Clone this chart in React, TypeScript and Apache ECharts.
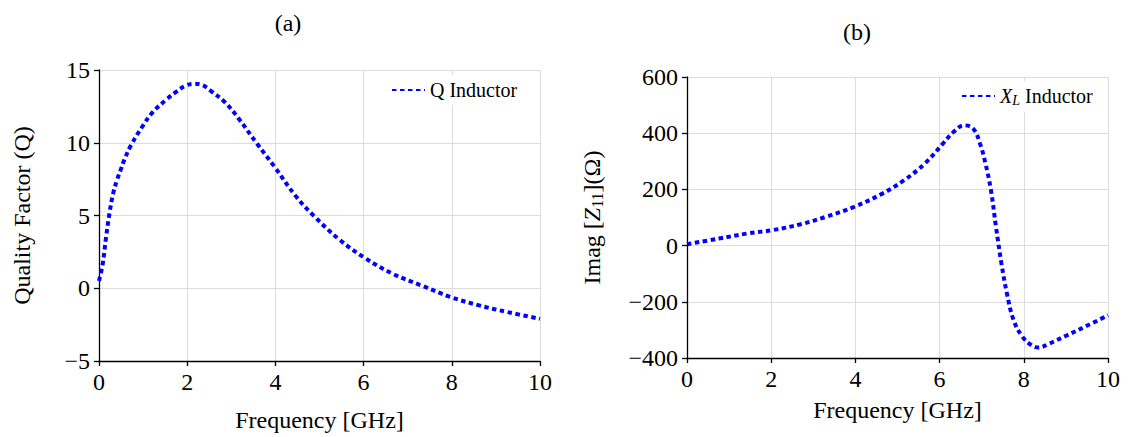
import React, { useEffect, useRef } from "react";
import * as echarts from "echarts";

// Panel (a): Quality factor
const freqQ = [0, 0.08, 0.16, 0.24, 0.32, 0.41, 0.5, 0.57, 0.73, 0.98, 1.22, 1.54, 1.75, 1.95, 2.15, 2.35, 2.52, 2.85, 3.17, 3.58, 3.98, 4.47, 4.88, 5.45, 6.02, 6.67, 7.32, 7.97, 8.62, 9.27, 10];
const qValues = [0.5, 1.6, 3.5, 5.2, 6.5, 7.45, 8.2, 8.8, 9.85, 11.1, 12.1, 13.0, 13.5, 13.9, 14.05, 13.95, 13.6, 12.8, 11.65, 9.95, 8.35, 6.3, 4.95, 3.35, 2.1, 0.98, 0.18, -0.6, -1.18, -1.64, -2.1];

// Panel (b): Imag Z11
const freqX = [0, 0.76, 1.43, 2.03, 2.7, 3.29, 3.97, 4.64, 5.15, 5.65, 6.08, 6.33, 6.58, 6.8, 6.96, 7.09, 7.22, 7.34, 7.47, 7.6, 7.76, 7.97, 8.19, 8.35, 8.6, 9.03, 9.45, 10];
const xlValues = [5, 25, 43, 55, 76, 102, 138, 185, 232, 292, 363, 404, 428, 416, 363, 292, 197, 66, -64, -171, -266, -325, -355, -363, -349, -319, -289, -248];

const xTicks = [0, 2, 4, 6, 8, 10];
const qTicks = [-5, 0, 5, 10, 15];
const zTicks = [-400, -200, 0, 200, 400, 600];

const FONT = "'Liberation Serif', 'DejaVu Serif', serif";
const FS = 24;
const LFS = 20;
const BLUE = "#0000ff";

const minus = (v: number) => String(v).replace("-", "\u2212");

export default function App() {
  const ref = useRef<HTMLDivElement>(null);
  useEffect(() => {
    if (!ref.current) return;
    const chart = echarts.init(ref.current, undefined, { renderer: "svg" });

    const xAxisBase = (gridIndex: number, gap: number) => ({
      type: "value" as const,
      gridIndex,
      min: xTicks[0],
      max: xTicks[xTicks.length - 1],
      interval: 2,
      name: "Frequency [GHz]",
      nameLocation: "middle" as const,
      nameGap: gap,
      nameTextStyle: { fontFamily: FONT, fontSize: FS, color: "#000" },
      axisLine: { show: true, onZero: false, lineStyle: { color: "#000", width: 1.3 } },
      axisTick: { show: true, inside: false, length: 5, lineStyle: { color: "#000", width: 1.3 } },
      axisLabel: { fontFamily: FONT, fontSize: FS, color: "#000", margin: 9, formatter: minus },
      splitLine: { show: true, lineStyle: { color: "#dcdcdc", width: 1 } },
    });

    const yAxisBase = (gridIndex: number, ticks: number[], interval: number, name: string, gap: number, rich?: any) => ({
      type: "value" as const,
      gridIndex,
      min: ticks[0],
      max: ticks[ticks.length - 1],
      interval,
      name,
      nameLocation: "middle" as const,
      nameGap: gap,
      nameTextStyle: { fontFamily: FONT, fontSize: FS, color: "#000", rich },
      axisLine: { show: true, onZero: false, lineStyle: { color: "#000", width: 1.3 } },
      axisTick: { show: true, inside: false, length: 5, lineStyle: { color: "#000", width: 1.3 } },
      axisLabel: { fontFamily: FONT, fontSize: FS, color: "#000", margin: 9, formatter: minus },
      splitLine: { show: true, lineStyle: { color: "#dcdcdc", width: 1 } },
    });

    const lineStyle = { color: BLUE, width: 4, type: [4.5, 3.5] as number[] };

    const richBase = {
      i: { fontFamily: FONT, fontSize: FS, fontStyle: "italic", color: "#000" },
      s: { fontFamily: FONT, fontSize: 16, color: "#000", padding: [11, 0, 0, 0] },
    };

    chart.setOption({
      animation: false,
      backgroundColor: "#fff",
      title: [
        { text: "(a)", left: 283, top: 6, textAlign: "center", textStyle: { fontFamily: FONT, fontSize: FS, fontWeight: "normal", color: "#000" } },
        { text: "(b)", left: 852, top: 15, textAlign: "center", textStyle: { fontFamily: FONT, fontSize: FS, fontWeight: "normal", color: "#000" } },
      ],
      grid: [
        { left: 99, top: 70, width: 441, height: 293 },
        { left: 687, top: 77, width: 421, height: 281 },
      ],
      xAxis: [xAxisBase(0, 47), xAxisBase(1, 40)],
      yAxis: [
        yAxisBase(0, qTicks, 5, "Quality Factor (Q)", 65),
        yAxisBase(1, zTicks, 200, "Imag [{i|Z}{s|11}](\u03A9)", 82, richBase),
      ],
      legend: [
        {
          data: ["Q Inductor"],
          left: 385,
          top: 75,
          padding: [5, 6, 5, 6],
          itemWidth: 33,
          itemHeight: 14,
          itemGap: 8,
          backgroundColor: "#fff",
          textStyle: { fontFamily: FONT, fontSize: LFS, color: "#000" },
          itemStyle: { opacity: 0 },
        },
        {
          data: ["XL Inductor"],
          left: 955,
          top: 81,
          padding: [5, 6, 5, 6],
          itemWidth: 33,
          itemHeight: 14,
          backgroundColor: "#fff",
          formatter: () => "{i|X}{s|L} Inductor",
          textStyle: {
            fontFamily: FONT,
            fontSize: LFS,
            color: "#000",
            rich: {
              i: { fontFamily: FONT, fontSize: LFS, fontStyle: "italic", color: "#000" },
              s: { fontFamily: FONT, fontSize: 14, fontStyle: "italic", color: "#000", padding: [9, 0, 0, 0] },
            },
          },
          itemStyle: { opacity: 0 },
        },
      ],
      series: [
        {
          name: "Q Inductor",
          type: "line",
          xAxisIndex: 0,
          yAxisIndex: 0,
          data: freqQ.map((f, i) => [f, qValues[i]]),
          smooth: 0.4,
          symbol: "none",
          lineStyle,
          itemStyle: { color: BLUE },
        },
        {
          name: "XL Inductor",
          type: "line",
          xAxisIndex: 1,
          yAxisIndex: 1,
          data: freqX.map((f, i) => [f, xlValues[i]]),
          smooth: 0.4,
          symbol: "none",
          lineStyle,
          itemStyle: { color: BLUE },
        },
      ],
    });
    return () => chart.dispose();
  }, []);

  return (
    <div
      ref={ref}
      style={{ position: "fixed", left: 0, top: 0, width: 1128, height: 437, background: "#fff" }}
    />
  );
}
